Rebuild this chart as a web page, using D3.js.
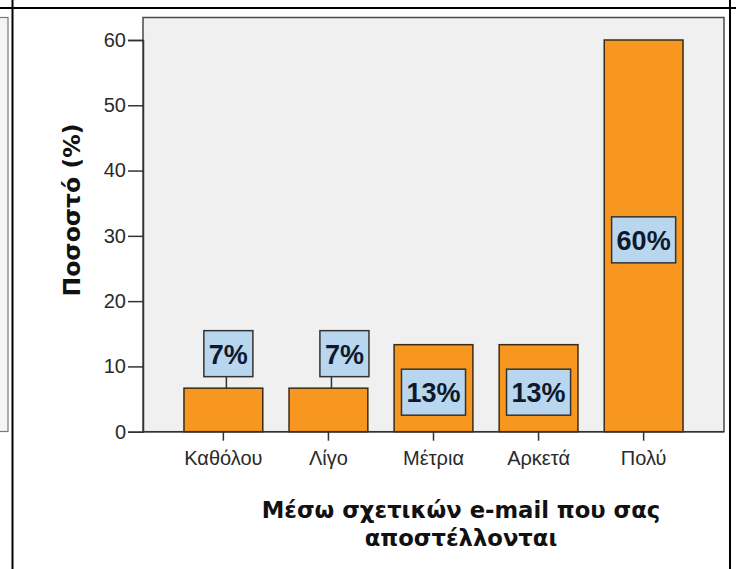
<!DOCTYPE html>
<html>
<head>
<meta charset="utf-8">
<script src="https://cdn.jsdelivr.net/npm/d3@7"></script>
<style>
  html, body { margin: 0; padding: 0; background: #fff; }
  svg { display: block; }
</style>
</head>
<body>
<svg id="chart" width="736" height="569"></svg>
<script>
// ---- data ----
const categories = ["Καθόλου", "Λίγο", "Μέτρια", "Αρκετά", "Πολύ"];
const percentValues = [6.67, 6.67, 13.33, 13.33, 60];
const valueLabels = ["7%", "7%", "13%", "13%", "60%"];
const yTicks = [0, 10, 20, 30, 40, 50, 60];
const yTitle = "Ποσοστό (%)";
const xTitleLines = ["Μέσω σχετικών e-mail που σας", "αποστέλλονται"];

// ---- layout constants ----
const W = 736, H = 569;
const plot = { left: 143, right: 724, top: 17.5, bottom: 431.7 };
const labelShift = [5, 16, 0, 0, 0]; // horizontal nudge of the label boxes
const barFill = "#f7971f";
const barStroke = "#3b2a14";
const boxFill = "#b9d6ef";
const bgFill = "#f0f0f0";

const svg = d3.select("#chart");

// cell frame (black grid lines of the surrounding table)
svg.append("line").attr("x1", 0).attr("x2", W).attr("y1", 8).attr("y2", 8)
  .attr("stroke", "#000").attr("stroke-width", 2);
svg.append("line").attr("x1", 12.5).attr("x2", 12.5).attr("y1", 0).attr("y2", H)
  .attr("stroke", "#000").attr("stroke-width", 2);
svg.append("line").attr("x1", 730).attr("x2", 730).attr("y1", 0).attr("y2", H)
  .attr("stroke", "#000").attr("stroke-width", 2);

// remnant of the neighbouring chart at the far left
svg.append("rect").attr("x", -10).attr("y", 17.5).attr("width", 18).attr("height", 414)
  .attr("fill", "#f5f5f5").attr("stroke", "#777").attr("stroke-width", 1.2);

// scales
const x = d3.scaleBand().domain(categories).range([plot.left, plot.right])
  .paddingInner(0.25).paddingOuter(0.39);
const y = d3.scaleLinear().domain([0, 60]).range([plot.bottom, 40]);

// plot background
svg.append("rect")
  .attr("x", plot.left).attr("y", plot.top)
  .attr("width", plot.right - plot.left).attr("height", plot.bottom - plot.top)
  .attr("fill", bgFill).attr("stroke", "#4a4a4a").attr("stroke-width", 1.5);

// bars
svg.append("g").selectAll("rect").data(percentValues).join("rect")
  .attr("x", (d, i) => x(categories[i]))
  .attr("y", d => y(d))
  .attr("width", x.bandwidth())
  .attr("height", d => y(0) - y(d))
  .attr("fill", barFill)
  .attr("stroke", barStroke).attr("stroke-width", 1.5);

// axes
const yAxis = svg.append("g").attr("transform", `translate(${plot.left},0)`)
  .call(d3.axisLeft(y).tickValues(yTicks).tickSize(15).tickPadding(2).tickFormat(d3.format("d")));
const xAxis = svg.append("g").attr("transform", `translate(0,${plot.bottom})`)
  .call(d3.axisBottom(x).tickSize(9).tickPadding(10));
[yAxis, xAxis].forEach(g => {
  g.select(".domain").attr("stroke", "#333").attr("stroke-width", 1.5);
  g.selectAll(".tick line").attr("stroke", "#333").attr("stroke-width", 1.5);
  g.selectAll(".tick text").attr("fill", "#2a2a2a")
    .style("font-family", "'Liberation Sans', Arial, sans-serif").style("font-size", "20px");
});
xAxis.select(".domain").remove();
svg.append("line").attr("x1", plot.left).attr("x2", plot.right)
  .attr("y1", plot.bottom).attr("y2", plot.bottom).attr("stroke", "#333").attr("stroke-width", 1.5);

// value labels
const lbl = svg.append("g");
percentValues.forEach((v, i) => {
  const cx = x(categories[i]) + x.bandwidth() / 2;
  const g = lbl.append("g");
  const t = g.append("text").text(valueLabels[i])
    .attr("text-anchor", "middle")
    .attr("dominant-baseline", "central")
    .style("font-family", "'Liberation Sans', Arial, sans-serif")
    .style("font-weight", "bold").style("font-size", "27px")
    .attr("fill", "#0e1a2c");
  const tw = t.node().getComputedTextLength();
  const bw = tw + 10, bh = 46;
  const barH = y(0) - y(v);
  let by;
  const bx = cx + labelShift[i];
  if (barH > bh + 10) {
    by = (y(v) + y(0)) / 2 + 4;
  } else {
    by = y(v) - 11.5 - bh / 2;
    g.append("line").attr("x1", cx + 3).attr("x2", cx + 3)
      .attr("y1", by + bh / 2).attr("y2", y(v))
      .attr("stroke", "#333").attr("stroke-width", 1.5);
  }
  g.insert("rect", "text")
    .attr("x", bx - bw / 2).attr("y", by - bh / 2)
    .attr("width", bw).attr("height", bh)
    .attr("fill", boxFill).attr("stroke", "#333").attr("stroke-width", 1.5);
  t.attr("x", bx).attr("y", by + 1);
});

// titles
svg.append("text")
  .attr("transform", "translate(80,210) rotate(-90)")
  .attr("text-anchor", "middle")
  .style("font-family", "'DejaVu Sans', Verdana, sans-serif")
  .style("font-weight", "bold").style("font-size", "23.5px")
  .attr("fill", "#111")
  .text(yTitle);

const xt = svg.append("text")
  .attr("text-anchor", "middle")
  .style("font-family", "'DejaVu Sans', Verdana, sans-serif")
  .style("font-weight", "bold").style("font-size", "22.7px")
  .attr("fill", "#111");
xTitleLines.forEach((s, i) => {
  xt.append("tspan").attr("x", 461).attr("y", 518 + i * 28).text(s);
});
</script>
</body>
</html>
